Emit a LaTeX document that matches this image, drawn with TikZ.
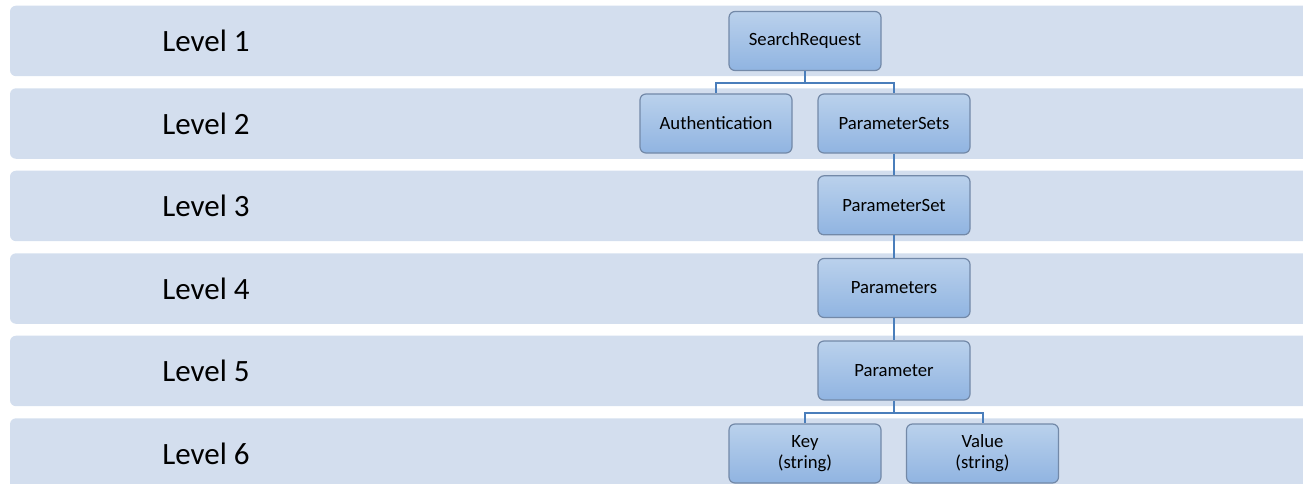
\documentclass[tikz,border=0pt]{standalone}
\usepackage{fontspec}
\setmainfont{Carlito}
\definecolor{bandfill}{HTML}{D3DEEE}
\definecolor{boxtop}{HTML}{BAD1EC}
\definecolor{boxbot}{HTML}{90B4E1}
\definecolor{boxborder}{HTML}{7389A8}
\definecolor{linkcol}{HTML}{4A7EBB}
\tikzset{
  band/.style={fill=bandfill, draw=none, rounded corners=6pt},
  levellabel/.style={font=\fontsize{31}{37}\selectfont, text=black},
  item/.style={draw=boxborder, line width=1.2pt, top color=boxtop, bottom color=boxbot,
    rounded corners=6pt, minimum width=152pt, minimum height=59pt, inner sep=0pt,
    align=center, font=\fontsize{18.7}{21}\selectfont, text=black},
  link/.style={draw=linkcol, line width=2pt}
}
\begin{document}
\begin{tikzpicture}[x=1pt,y=-1pt]
\useasboundingbox (0,0) rectangle (1303,484);
\clip (0,0) rectangle (1303,484);
% bands
\foreach \t/\n in {5.7/1,88.3/2,170.7/3,253.3/4,335.7/5,418.3/6}{
  \path[band] (10,\t) rectangle (1330,\t+70.5);
  \node[levellabel] (lvl\n) at (206,\t+35.2) {Level \n};
}
% nodes
\node[item] (sr) at (805,41) {SearchRequest};
\node[item] (auth) at (716,123.5) {Authentication};
\node[item] (pss) at (894,123.5) {ParameterSets};
\node[item] (pset) at (894,205.3) {ParameterSet};
\node[item] (pars) at (894,288) {Parameters};
\node[item] (par) at (894,370.5) {Parameter};
\node[item] (key) at (805,453.5) {Key\\(string)};
\node[item] (val) at (982.5,453.5) {Value\\(string)};
% connectors
\coordinate (j1) at (805,82.7);
\coordinate (j2) at (894,412.7);
\draw[link] (sr.south) -- (j1) -| (auth.north);
\draw[link] (j1) -| (pss.north);
\draw[link] (pss.south) -- (pset.north);
\draw[link] (pset.south) -- (pars.north);
\draw[link] (pars.south) -- (par.north);
\draw[link] (par.south) -- (j2) -| (key.north);
\draw[link] (j2) -| (val.north);
\end{tikzpicture}
\end{document}
